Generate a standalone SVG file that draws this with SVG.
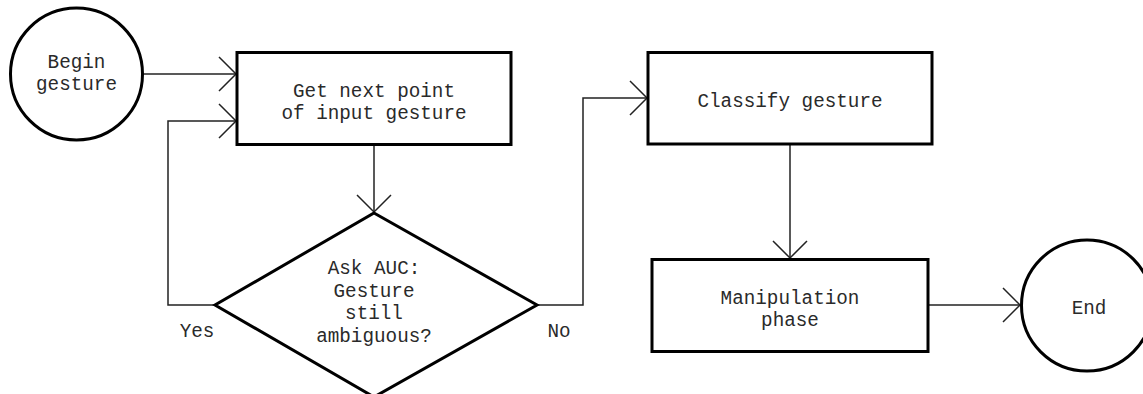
<svg xmlns="http://www.w3.org/2000/svg" width="1143" height="394" viewBox="0 0 1143 394">
<style>
.shape{fill:#fff;stroke:#000;stroke-width:3}
.conn{fill:none;stroke:#222;stroke-width:1.5}
text{font-family:"Liberation Mono","Courier New",monospace;font-size:19.3px;fill:#2a2a2a;text-anchor:middle}
</style>
<defs>
<marker id="arr" markerUnits="userSpaceOnUse" markerWidth="40" markerHeight="40" refX="0" refY="0" viewBox="-20 -20 40 40" orient="auto" overflow="visible">
<path d="M-17,-17 L0,0 L-17,17" fill="none" stroke="#222" stroke-width="1.5"/>
</marker>
</defs>
<rect width="1143" height="394" fill="#fff"/>
<g id="connectors">
<path class="conn" d="M143,74 H236" marker-end="url(#arr)"/>
<path class="conn" d="M215,305 H168 V121 H236" marker-end="url(#arr)"/>
<path class="conn" d="M374,145 V212" marker-end="url(#arr)"/>
<path class="conn" d="M537,305 H583 V98 H647" marker-end="url(#arr)"/>
<path class="conn" d="M790,144 V258" marker-end="url(#arr)"/>
<path class="conn" d="M928,305 H1020" marker-end="url(#arr)"/>
</g>
<g id="begin">
<circle class="shape" cx="76.5" cy="74" r="66"/>
<text x="76.5" y="68">Begin</text>
<text x="76.5" y="90">gesture</text>
</g>
<g id="getpoint">
<rect class="shape" x="237" y="52.5" width="274" height="92"/>
<text x="374" y="97">Get next point</text>
<text x="374" y="118.5">of input gesture</text>
</g>
<g id="decision">
<polygon class="shape" points="374,213 537,305 374,397 215,305"/>
<text x="374" y="273.5">Ask AUC:</text>
<text x="374" y="296.5">Gesture</text>
<text x="374" y="319">still</text>
<text x="374" y="342">ambiguous?</text>
</g>
<g id="labels">
<text x="197" y="337">Yes</text>
<text x="559" y="337">No</text>
</g>
<g id="classify">
<rect class="shape" x="648" y="52.5" width="284" height="91.5"/>
<text x="790" y="106.5">Classify gesture</text>
</g>
<g id="manipulation">
<rect class="shape" x="652" y="259.5" width="276" height="92"/>
<text x="790" y="303.5">Manipulation</text>
<text x="790" y="325.5">phase</text>
</g>
<g id="end">
<circle class="shape" cx="1087" cy="305.5" r="65.5"/>
<text x="1089" y="313.5">End</text>
</g>
</svg>
